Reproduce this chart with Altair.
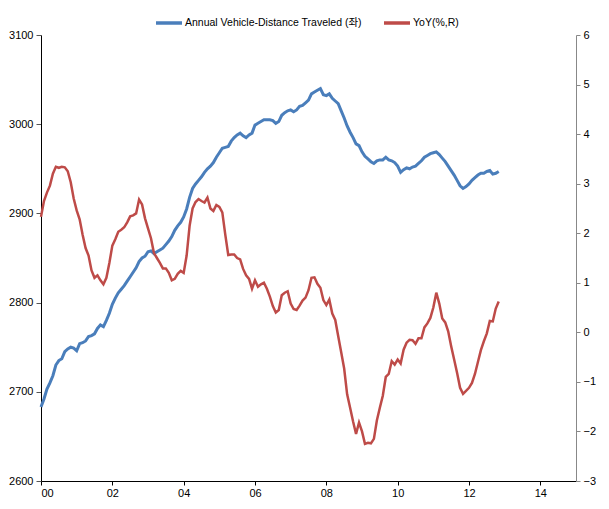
import altair as alt
import pandas as pd

# Monthly data, Jan 2000 .. Nov 2012
START_YEAR = 2000
vmt = [
    2683, 2692, 2703, 2710, 2718, 2730, 2735, 2737, 2745, 2748, 2750, 2749,
    2746, 2754, 2755, 2757, 2762, 2763, 2765, 2771, 2775, 2773, 2780, 2788,
    2798, 2805, 2811, 2815, 2819, 2824, 2829, 2834, 2839, 2846, 2850, 2852,
    2857, 2858, 2855, 2857, 2859, 2861, 2865, 2869, 2874, 2881, 2886, 2890,
    2896, 2905, 2918, 2928, 2933, 2937, 2941, 2946, 2950, 2953, 2957, 2963,
    2968, 2973, 2974, 2975, 2981, 2985, 2988, 2990, 2987, 2985, 2988, 2990,
    2999, 3001, 3003, 3005, 3005, 3005, 3004, 3001, 3003, 3010, 3013, 3015,
    3016, 3014, 3016, 3020, 3021, 3024, 3027, 3034, 3036, 3038, 3040, 3033,
    3032, 3034, 3029, 3026, 3023, 3015, 3007, 2998, 2991, 2985, 2978, 2976,
    2969, 2964, 2961, 2958, 2956, 2959, 2960, 2960, 2963, 2960, 2959, 2957,
    2953, 2946, 2949, 2951, 2950, 2952, 2953, 2956, 2959, 2963, 2965, 2967,
    2968, 2969, 2966, 2962, 2958, 2953, 2948, 2943, 2937, 2931, 2928, 2930,
    2933, 2937, 2940, 2943, 2945, 2945, 2947, 2948, 2944, 2945, 2947,
]
yoy = [
    2.33, 2.65, 2.82, 2.96, 3.20, 3.34, 3.32, 3.34, 3.33, 3.25, 3.03, 2.70,
    2.46, 2.28, 1.97, 1.70, 1.55, 1.25, 1.10, 1.15, 1.05, 0.97, 1.10, 1.40,
    1.75, 1.88, 2.03, 2.07, 2.12, 2.22, 2.34, 2.36, 2.40, 2.68, 2.58, 2.30,
    2.10, 1.90, 1.60, 1.50, 1.40, 1.29, 1.29, 1.20, 1.05, 1.08, 1.18, 1.24,
    1.20, 1.55, 2.15, 2.50, 2.63, 2.69, 2.65, 2.62, 2.72, 2.50, 2.45, 2.57,
    2.53, 2.42, 1.97, 1.56, 1.57, 1.57, 1.50, 1.47, 1.28, 1.15, 1.08, 0.88,
    1.05, 0.92, 0.97, 1.00, 0.88, 0.72, 0.53, 0.40, 0.45, 0.75, 0.80, 0.83,
    0.58, 0.47, 0.45, 0.54, 0.64, 0.70, 0.85, 1.10, 1.11, 0.98, 0.90, 0.65,
    0.55, 0.66, 0.38, 0.25, -0.08, -0.40, -0.73, -1.25, -1.52, -1.80, -2.05, -1.82,
    -2.00, -2.25, -2.23, -2.24, -2.15, -1.78, -1.52, -1.28, -0.90, -0.84, -0.58, -0.65,
    -0.55, -0.63, -0.35, -0.21, -0.15, -0.16, -0.23, -0.12, -0.12, 0.10, 0.18, 0.29,
    0.50, 0.80, 0.58, 0.28, 0.20, 0.02, -0.28, -0.55, -0.82, -1.12, -1.24, -1.18,
    -1.12, -1.02, -0.84, -0.60, -0.36, -0.18, -0.02, 0.23, 0.22, 0.48, 0.62,
]
x_ticks = [2000, 2002, 2004, 2006, 2008, 2010, 2012, 2014]
left_ticks = [2600, 2700, 2800, 2900, 3000, 3100]
right_ticks = [-3, -2, -1, 0, 1, 2, 3, 4, 5, 6]

S1 = "Annual Vehicle-Distance Traveled (좌)"
S2 = "YoY(%,R)"
BLUE = "#4A7EBB"
RED = "#BE4B48"
FONT = "Arial, 'Liberation Sans', 'Noto Sans CJK KR', sans-serif"

df = pd.DataFrame({
    "t": [START_YEAR + i / 12 for i in range(len(vmt))],
    "vmt": vmt,
    "yoy": yoy,
})

x = alt.X(
    "t:Q",
    scale=alt.Scale(domain=[2000, 2015], nice=False, zero=False),
    axis=alt.Axis(
        values=x_ticks,
        labelExpr="substring(toString(datum.value), 2, 4)",
        title=None, grid=False, domainColor="black", tickColor="black",
        tickSize=4, labelPadding=2,
    ),
)

color = alt.Color(
    "series:N",
    scale=alt.Scale(domain=[S1, S2], range=[BLUE, RED]),
    legend=alt.Legend(
        orient="none", legendX=113, legendY=-27, direction="horizontal",
        title=None, symbolType="stroke", symbolSize=676, symbolStrokeWidth=3.5,
        labelFont=FONT, labelFontSize=10.5, labelColor="black", labelLimit=0,
        columnPadding=15, labelOffset=1, padding=0,
    ),
)

base = alt.Chart(df)

blue = base.transform_calculate(series=f"'{S1}'").mark_line(strokeWidth=3).encode(
    x=x,
    y=alt.Y(
        "vmt:Q",
        scale=alt.Scale(domain=[2600, 3100], nice=False, zero=False),
        axis=alt.Axis(orient="left", values=left_ticks, format="d", title=None, grid=False,
                      domainColor="black", tickColor="#555", tickSize=5, labelPadding=3),
    ),
    color=color,
)

red = base.transform_calculate(series=f"'{S2}'").mark_line(strokeWidth=2.5).encode(
    x=x,
    y=alt.Y(
        "yoy:Q",
        scale=alt.Scale(domain=[-3, 6], nice=False, zero=False),
        axis=alt.Axis(orient="right", values=right_ticks, title=None, grid=False,
                      domainColor="#888", tickColor="#888", tickSize=4, labelPadding=3),
    ),
    color=color,
)

chart = (
    alt.layer(blue, red)
    .resolve_scale(y="independent")
    .properties(width=535, height=446, padding=0)
    .configure_axis(labelFont=FONT, labelFontSize=11, labelColor="black")
    .configure_view(stroke=None)
)

chart.save("out.html", embed_options={"renderer": "svg", "actions": False})
